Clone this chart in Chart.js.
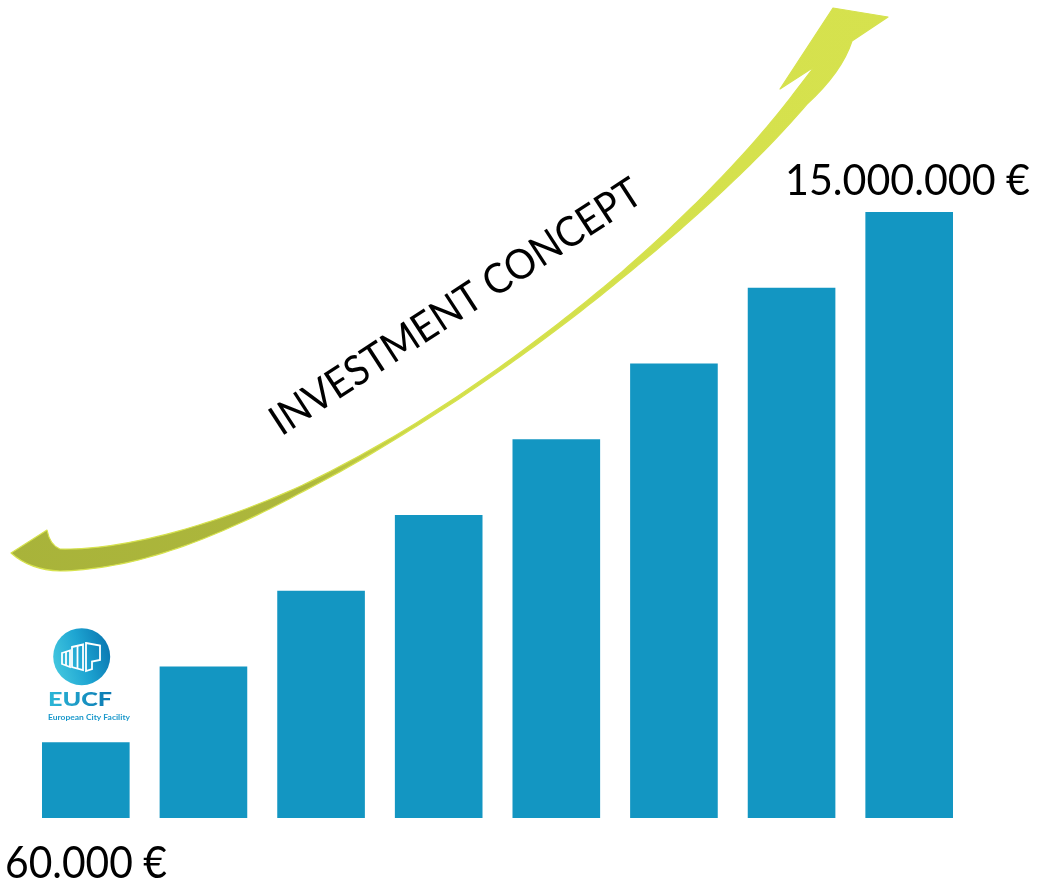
<!DOCTYPE html>
<html><head><meta charset="utf-8">
<script src="https://cdn.jsdelivr.net/npm/chart.js@4"></script>
<style>html,body{margin:0;padding:0;background:#fff}#wrap{width:1037px;height:884px;position:relative}</style>
</head><body><div id="wrap"><canvas id="c"></canvas></div>
<script>
// ---- data ----
const categories = ['Step 1','Step 2','Step 3','Step 4','Step 5','Step 6','Step 7','Step 8'];
const investmentSteps = [1, 2, 3, 4, 5, 6, 7, 8];
const yMax = 8;
const startLabel = '60.000 €';
const endLabel = '15.000.000 €';
const arrowLabel = 'INVESTMENT CONCEPT';
const logoTitle = 'EUCF';
const logoSubtitle = 'European City Facility';

const BAR = '#1396c2';
const FONT = 'Lato, "Open Sans", sans-serif';

function fitText(ctx, text, capH, width, x, y, align) {
  const size = capH / 0.72;
  ctx.font = '400 ' + size + 'px ' + FONT;
  const w = ctx.measureText(text).width;
  ctx.save();
  ctx.translate(x, y);
  ctx.scale(width / w, 1);
  ctx.textAlign = align || 'left';
  ctx.fillText(text, 0, 0);
  ctx.restore();
}

function drawArrow(ctx) {
  const P0 = [60, 560], P1 = [300, 560], P2 = [720, 230], P3 = [833, 54];
  const wt = [[0,22],[0.1,19],[0.17,15],[0.29,6],[0.4,3],[0.5,3],[0.65,5],[0.77,10],[0.92,17]];
  function W(t){
    for (let i=1;i<wt.length;i++){ if (t<=wt[i][0]){ const a=wt[i-1],b=wt[i]; return a[1]+(b[1]-a[1])*(t-a[0])/(b[0]-a[0]); } }
    return wt[wt.length-1][1];
  }
  function B(t){
    const u=1-t; const c0=u*u*u,c1=3*u*u*t,c2=3*u*t*t,c3=t*t*t;
    return [c0*P0[0]+c1*P1[0]+c2*P2[0]+c3*P3[0], c0*P0[1]+c1*P1[1]+c2*P2[1]+c3*P3[1]];
  }
  function D(t){
    const u=1-t;
    const dx=3*(u*u*(P1[0]-P0[0])+2*u*t*(P2[0]-P1[0])+t*t*(P3[0]-P2[0]));
    const dy=3*(u*u*(P1[1]-P0[1])+2*u*t*(P2[1]-P1[1])+t*t*(P3[1]-P2[1]));
    const l=Math.hypot(dx,dy); return [dx/l,dy/l];
  }
  const N=120, tEnd=0.92, upper=[], lower=[];
  for (let i=0;i<=N;i++){
    const t=tEnd*i/N, p=B(t), d=D(t), w=W(t)/2;
    const n=[d[1],-d[0]];
    upper.push([p[0]+n[0]*w, p[1]+n[1]*w]);
    lower.push([p[0]-n[0]*w, p[1]-n[1]*w]);
  }
  const g=ctx.createLinearGradient(0,0,900,0);
  g.addColorStop(0,'#a8b33a'); g.addColorStop(0.34,'#adb73c'); g.addColorStop(0.48,'#d3df4b'); g.addColorStop(1,'#d6e24e');
  ctx.save();
  ctx.beginPath();
  ctx.moveTo(lower[0][0], lower[0][1]);
  for (const p of lower) ctx.lineTo(p[0],p[1]);
  ctx.quadraticCurveTo(842,72,852,41);
  ctx.lineTo(888,17);
  ctx.lineTo(833,8);
  ctx.lineTo(780,89);
  ctx.lineTo(814,67);
  for (let i=upper.length-1;i>=0;i--) ctx.lineTo(upper[i][0],upper[i][1]);
  ctx.quadraticCurveTo(50,545,47,530);
  ctx.lineTo(11,553);
  ctx.quadraticCurveTo(30,570,lower[0][0],lower[0][1]);
  ctx.closePath();
  ctx.fillStyle=g; ctx.fill();
  ctx.strokeStyle='#d6e24e'; ctx.lineWidth=1.2; ctx.lineJoin='round'; ctx.stroke();
  ctx.restore();
}

function drawLogo(ctx) {
  const cx=81.7, cy=656.7, r=28.5;
  ctx.save();
  const g=ctx.createLinearGradient(cx-r,cy+r*0.3,cx+r,cy-r*0.3);
  g.addColorStop(0,'#43c7df'); g.addColorStop(0.5,'#1ea5d2'); g.addColorStop(1,'#0a78b2');
  ctx.beginPath(); ctx.arc(cx,cy,r,0,Math.PI*2); ctx.fillStyle=g; ctx.fill();
  ctx.strokeStyle='#ffffff'; ctx.lineWidth=1.8; ctx.lineJoin='miter';
  const polys=[
    [[62,653],[70,650.5],[70,667],[62,664]],
    [[72,647],[83,644.5],[83,670],[72,667]],
    [[86,643],[100,645.5],[100,660],[92,661.5],[92,669],[86,671]]
  ];
  for (const p of polys){ ctx.beginPath(); ctx.moveTo(p[0][0],p[0][1]); for (let i=1;i<p.length;i++) ctx.lineTo(p[i][0],p[i][1]); ctx.closePath(); ctx.stroke(); }
  ctx.beginPath(); ctx.moveTo(66,652); ctx.lineTo(66,665.5); ctx.moveTo(77.5,646); ctx.lineTo(77.5,668.5); ctx.stroke();
  ctx.font='900 19.5px '+FONT;
  let w=ctx.measureText(logoTitle).width;
  ctx.translate(48,706); ctx.scale(64/w,1);
  const tg=ctx.createLinearGradient(0,0,w,0); tg.addColorStop(0,'#2cb8d8'); tg.addColorStop(1,'#0a78b2');
  ctx.fillStyle=tg; ctx.textBaseline='alphabetic'; ctx.textAlign='left';
  ctx.fillText(logoTitle,0,0);
  ctx.restore();
  ctx.save();
  ctx.font='700 8.3px '+FONT;
  w=ctx.measureText(logoSubtitle).width;
  ctx.translate(48,720); ctx.scale(82/w,1);
  ctx.fillStyle='#1a98cb'; ctx.fillText(logoSubtitle,0,0);
  ctx.restore();
}

function drawTexts(ctx) {
  ctx.save();
  ctx.fillStyle='#000'; ctx.textBaseline='alphabetic';
  fitText(ctx, startLabel, 32, 162, 5, 878);
  fitText(ctx, endLabel, 31, 245, 785, 195);
  ctx.translate(455,306); ctx.rotate(-33*Math.PI/180);
  fitText(ctx, arrowLabel, 30, 434, 0, 15, 'center');
  ctx.restore();
}

const decor = {
  id:'decor',
  afterDraw(chart){ const ctx=chart.ctx; drawArrow(ctx); drawLogo(ctx); drawTexts(ctx); }
};

new Chart(document.getElementById('c'), {
  type:'bar',
  data:{ labels:categories, datasets:[{ data:investmentSteps, backgroundColor:BAR, borderWidth:0, categoryPercentage:1, barPercentage:0.745 }]},
  options:{
    responsive:true, maintainAspectRatio:false, animation:false,
    layout:{ padding:{ left:27, right:69, top:212, bottom:66 } },
    plugins:{ legend:{display:false}, tooltip:{enabled:false}, title:{display:false} },
    scales:{
      x:{ display:false, grid:{display:false} },
      y:{ display:false, min:0, max:yMax, grid:{display:false} }
    }
  },
  plugins:[decor]
});
</script></body></html>
